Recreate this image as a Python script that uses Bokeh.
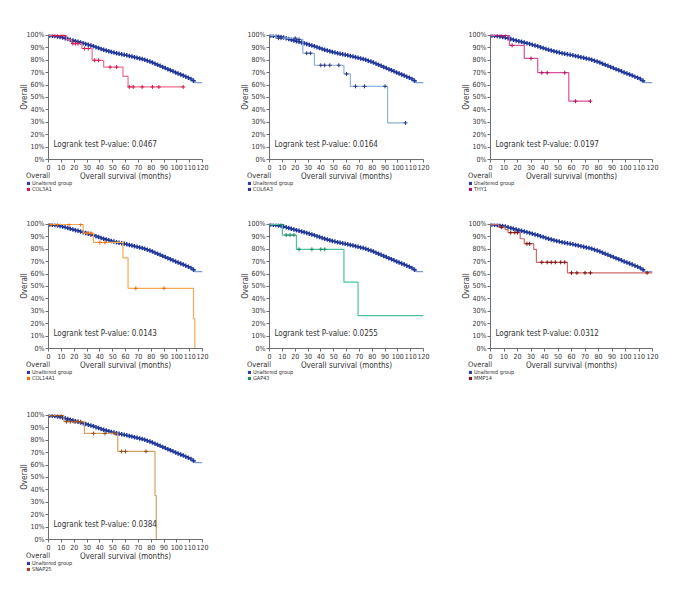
import numpy as np
from bokeh.plotting import figure
from bokeh.layouts import column, row
from bokeh.models import Range1d, FixedTicker, Label, Legend, LegendItem, CustomJSTickFormatter
from bokeh.embed import file_html
from bokeh.resources import INLINE

FONT = "DejaVu Sans Condensed, Liberation Sans Narrow, Liberation Sans"

# Unaltered group (same in every panel), survival in %
unalt_t = [0, 2, 4, 6, 8, 10, 12, 14, 16, 18, 20, 22, 24, 26, 28, 30, 32, 34, 36, 38, 40,
           42, 44, 46, 48, 50, 52, 54, 56, 58, 60, 62, 64, 66, 68, 70, 72, 74, 76, 78, 80,
           82, 84, 86, 88, 90, 92, 94, 96, 98, 100, 102, 104, 106, 108, 110, 112, 114, 120]
unalt_s = [100, 99.8, 99.5, 99.2, 98.8, 98.3, 97.7, 97.2, 96.6, 96.0, 95.4, 94.9, 94.3, 93.8,
           93.2, 92.6, 91.9, 91.3, 90.6, 89.9, 89.2, 88.5, 87.9, 87.3, 86.7, 86.2, 85.7, 85.2,
           84.8, 84.4, 84.0, 83.5, 83.0, 82.5, 82.0, 81.5, 81.0, 80.4, 79.7, 79.0, 78.2, 77.3,
           76.4, 75.5, 74.6, 73.7, 72.8, 72.0, 71.1, 70.2, 69.3, 68.5, 67.7, 66.8, 66.0, 65.0,
           63.5, 62.0, 62.0]
unalt_censor = [1, 3, 5, 7, 9, 11, 13, 15, 17, 19, 21, 23, 25, 27, 29, 31, 33, 35, 37, 39, 41,
                43, 45, 47, 49, 51, 53, 55, 57, 59, 61, 63, 65, 67, 69, 71, 73, 75, 77, 79, 81,
                83, 85, 87, 89, 91, 93, 95, 97, 99, 101, 103, 105, 107, 109, 111, 113]

genes = ["COL3A1", "COL6A3", "THY1", "COL14A1", "GAP43", "MMP14", "SNAP25"]
pvalues = ["0.0467", "0.0164", "0.0197", "0.0143", "0.0255", "0.0312", "0.0384"]

col3a1_t = [0, 14, 18, 26, 34, 43, 58, 62, 105]
col3a1_s = [100, 96.5, 93.5, 89.5, 80, 74.5, 67, 58.5, 58.5]
col3a1_c = [4, 7, 10, 12, 19, 21, 23, 28, 31, 36, 39, 48, 53, 63, 66, 73, 81, 86, 105]

col6a3_t = [0, 5, 22, 26, 35, 58, 63, 92, 106]
col6a3_s = [100, 97.8, 96.8, 85.7, 76, 69, 59, 29.5, 29.5]
col6a3_c = [7, 9, 20, 23, 29, 32, 40, 43, 47, 54, 60, 67, 74, 90, 106]

thy1_t = [0, 14, 25, 35, 58, 74]
thy1_s = [100, 92, 81.5, 70, 47, 47]
thy1_c = [5, 8, 11, 16, 30, 38, 42, 55, 63, 74]

col14a1_t = [0, 27, 35, 58, 62, 113, 114]
col14a1_s = [100, 93, 85.5, 73, 48.5, 24, 0]
col14a1_c = [2, 7, 16, 25, 30, 33, 40, 44, 68, 90]

gap43_t = [0, 10, 21, 58, 69, 120]
gap43_s = [100, 91.5, 80, 53.5, 26.5, 26.5]
gap43_c = [9, 13, 16, 19, 23, 33, 40, 43]

mmp14_t = [0, 6, 11, 13, 22, 25, 32, 34, 57, 120]
mmp14_s = [100, 97.8, 95.8, 93.5, 88.5, 84.5, 80, 69.5, 61, 61]
mmp14_c = [8, 15, 18, 20, 27, 29, 38, 42, 45, 48, 52, 55, 60, 64, 70, 74, 116]

snap25_t = [0, 12, 28, 54, 83, 84]
snap25_s = [100, 95, 85.5, 71, 35.5, 0]
snap25_c = [3, 7, 10, 14, 17, 20, 23, 25, 35, 44, 52, 57, 60, 76]

series = [
    (col3a1_t, col3a1_s, col3a1_c, "#ec6d8f", "#d81e4e"),
    (col6a3_t, col6a3_s, col6a3_c, "#8eb0da", "#2a3a80"),
    (thy1_t, thy1_s, thy1_c, "#d9509c", "#b0185e"),
    (col14a1_t, col14a1_s, col14a1_c, "#f6aa55", "#ec6f12"),
    (gap43_t, gap43_s, gap43_c, "#4cc3a0", "#1e8a62"),
    (mmp14_t, mmp14_s, mmp14_c, "#cc6a6a", "#7c1414"),
    (snap25_t, snap25_s, snap25_c, "#d2a364", "#9a4a1e"),
]

x_ticks = list(range(0, 121, 10))
y_ticks = list(range(0, 101, 10))

CELL_W = 221
LEFT = 48
ROW_TOP = [34, 29, 31]
FRAME_H = 125
BOTTOM = 13
LEG_H = 22
TXT = "#333333"


def step_lookup(t, s, pts):
    idx = np.searchsorted(np.array(t), np.array(pts), side="right") - 1
    return [s[i] for i in idx]


def frame_w_of(i):
    return 162 if i % 3 == 2 else 154


def make_panel(i):
    t, s, c, lcol, mcol = series[i]
    fw = frame_w_of(i)
    p = figure(frame_width=fw, frame_height=FRAME_H, output_backend="svg",
               toolbar_location=None, x_range=Range1d(0, 120), y_range=Range1d(0, 100.8),
               min_border_left=LEFT, min_border_right=CELL_W - LEFT - fw,
               min_border_top=ROW_TOP[i // 3], min_border_bottom=BOTTOM)
    p.outline_line_color = None
    p.xgrid.visible = False
    p.ygrid.visible = False
    p.background_fill_color = None
    p.border_fill_color = None

    for ax in (p.xaxis[0], p.yaxis[0]):
        ax.axis_line_color = "#6e6e6e"
        ax.major_tick_line_color = "#6e6e6e"
        ax.minor_tick_line_color = None
        ax.major_tick_in = 0
        ax.major_tick_out = 3
        ax.major_label_text_font = FONT
        ax.major_label_text_font_size = "7px"
        ax.major_label_text_color = TXT
        ax.axis_label_text_font = FONT
        ax.axis_label_text_font_size = "8px"
        ax.axis_label_text_font_style = "normal"
        ax.axis_label_text_color = TXT
        ax.major_label_standoff = 1
    p.yaxis.axis_label_standoff = -6
    p.xaxis.ticker = FixedTicker(ticks=x_ticks)
    p.yaxis.ticker = FixedTicker(ticks=y_ticks)
    p.yaxis.formatter = CustomJSTickFormatter(code="return tick + '%';")
    p.yaxis.axis_label = "Overall"

    # unaltered group
    p.step(unalt_t, unalt_s, mode="after", line_color="#7e9be0", line_width=1.3)
    p.scatter(unalt_censor, step_lookup(unalt_t, unalt_s, unalt_censor), marker="cross",
              size=4.5, line_color="#22379a", line_width=1.4)
    # altered group
    p.step(t, s, mode="after", line_color=lcol, line_width=1.2)
    p.scatter(c, step_lookup(t, s, c), marker="cross", size=4, line_color=mcol, line_width=1)

    p.add_layout(Label(x=5, y=12, x_units="screen", y_units="data",
                       text="Logrank test P-value: " + pvalues[i], text_font=FONT,
                       text_font_size="8px", text_color=TXT, text_baseline="middle"))
    return p


def make_legend_row(idxs):
    q = figure(width=CELL_W * 3, height=LEG_H, output_backend="svg", toolbar_location=None,
               x_range=Range1d(0, 1), y_range=Range1d(0, 1),
               x_axis_location=None, y_axis_location=None,
               min_border_left=0, min_border_right=0, min_border_top=0, min_border_bottom=0)
    q.grid.visible = False
    q.outline_line_color = None
    q.background_fill_color = None
    q.border_fill_color = None
    nan = [np.nan]
    for k, i in enumerate(idxs):
        mcol = series[i][4]
        fw = frame_w_of(i)
        sw_u = q.quad(left=nan, right=nan, top=nan, bottom=nan, fill_color="#2a3ea6", line_color=None)
        sw_g = q.quad(left=nan, right=nan, top=nan, bottom=nan, fill_color=mcol, line_color=None)
        leg = Legend(items=[LegendItem(label="Unaltered group", renderers=[sw_u]),
                            LegendItem(label=genes[i], renderers=[sw_g])],
                     location=(CELL_W * k + 26, 2), title="Overall", orientation="vertical")
        leg.title_text_font = FONT
        leg.title_text_font_size = "7.5px"
        leg.title_text_font_style = "normal"
        leg.title_text_color = TXT
        leg.title_standoff = 0
        leg.label_text_font = FONT
        leg.label_text_font_size = "5.5px"
        leg.label_text_color = TXT
        leg.label_height = 4
        leg.label_standoff = 2
        leg.glyph_width = 4
        leg.glyph_height = 4
        leg.spacing = 0
        leg.padding = 0
        leg.margin = 0
        leg.border_line_color = None
        leg.background_fill_alpha = 0
        q.add_layout(leg, "center")
        # x-axis title of the panel above, centred under its frame
        q.add_layout(Label(x=CELL_W * k + LEFT + fw / 2, y=LEG_H - 4, x_units="screen",
                           y_units="screen", text="Overall survival (months)", text_font=FONT,
                           text_font_size="8px", text_color=TXT, text_align="center",
                           text_baseline="middle"))
    return q


panels = [make_panel(i) for i in range(7)]

layout = column(row(panels[0], panels[1], panels[2], spacing=0),
                make_legend_row([0, 1, 2]),
                row(panels[3], panels[4], panels[5], spacing=0),
                make_legend_row([3, 4, 5]),
                row(panels[6], spacing=0),
                make_legend_row([6]), spacing=0)

open("out.html", "w").write(file_html(layout, INLINE))
